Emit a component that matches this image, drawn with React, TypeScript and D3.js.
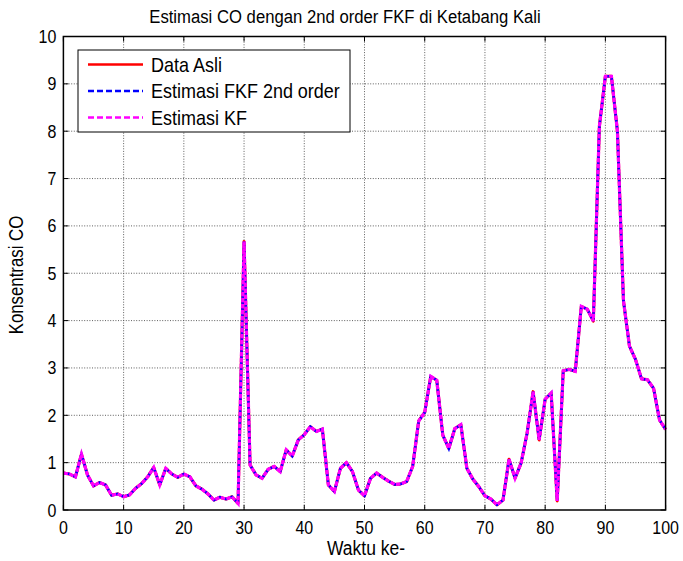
import React from "react";
import * as d3 from "d3";

// Measured CO concentration per time step (0..100)
const dataAsli: number[] = [
  0.78, 0.76, 0.7, 1.18, 0.74, 0.51, 0.58, 0.53, 0.31, 0.34,
  0.28, 0.32, 0.46, 0.56, 0.7, 0.9, 0.53, 0.88, 0.76, 0.69,
  0.76, 0.7, 0.51, 0.44, 0.34, 0.21, 0.27, 0.23, 0.28, 0.14,
  5.67, 0.95, 0.74, 0.67, 0.86, 0.92, 0.81, 1.27, 1.14, 1.48,
  1.59, 1.76, 1.66, 1.71, 0.53, 0.39, 0.88, 1.0, 0.81, 0.42,
  0.3, 0.67, 0.78, 0.69, 0.61, 0.54, 0.55, 0.6, 0.92, 1.88,
  2.06, 2.82, 2.74, 1.58, 1.3, 1.72, 1.8, 0.88, 0.65, 0.49,
  0.3, 0.23, 0.11, 0.21, 1.07, 0.67, 0.99, 1.62, 2.5, 1.48,
  2.34, 2.47, 0.19, 2.94, 2.97, 2.93, 4.3, 4.24, 3.99, 8.1,
  9.16, 9.16, 8.0, 4.42, 3.46, 3.18, 2.77, 2.75, 2.57, 1.9,
  1.7,
];

// Second-order FKF estimate and KF estimate (visually coincide with the data)
const estimasiFKF: number[] = dataAsli.slice();
const estimasiKF: number[] = dataAsli.slice();

const xTicks = [0, 10, 20, 30, 40, 50, 60, 70, 80, 90, 100];
const yTicks = [0, 1, 2, 3, 4, 5, 6, 7, 8, 9, 10];

const legendLabels = ["Data Asli", "Estimasi FKF 2nd order", "Estimasi KF"];

const W = 683;
const H = 561;
const left = 63.4;
const right = 665.6;
const top = 36.5;
const bottom = 510;
const font = "'Liberation Sans', Arial, Helvetica, sans-serif";
const stretch = 1.15;

// Text drawn slightly taller than wide, like the exported figure's glyphs
function T({
  x,
  y,
  size,
  anchor = "start",
  rotate = 0,
  children,
}: {
  x: number;
  y: number;
  size: number;
  anchor?: "start" | "middle" | "end";
  rotate?: number;
  children: React.ReactNode;
}) {
  const tr = rotate
    ? `translate(${x},${y}) rotate(${rotate}) scale(1,${stretch})`
    : `translate(${x},${y}) scale(1,${stretch})`;
  return (
    <text transform={tr} textAnchor={anchor} fontSize={size} fill="#000">
      {children}
    </text>
  );
}

export default function App() {
  const x = d3.scaleLinear().domain([0, 100]).range([left, right]);
  const y = d3.scaleLinear().domain([0, 10]).range([bottom, top]);

  const line = d3
    .line<number>()
    .x((_, i) => x(i))
    .y((d) => y(d));

  const tickLen = 5;

  return (
    <svg
      width={W}
      height={H}
      style={{ position: "absolute", left: 0, top: 0, background: "#fff" }}
      fontFamily={font}
    >
      <rect x={0} y={0} width={W} height={H} fill="#fff" />
      {/* grid */}
      <g stroke="#222" strokeWidth={0.9} strokeDasharray="1 1.6" opacity={0.8}>
        {xTicks.slice(1, -1).map((t) => (
          <line key={"gx" + t} x1={x(t)} x2={x(t)} y1={top} y2={bottom} />
        ))}
        {yTicks.slice(1, -1).map((t) => (
          <line key={"gy" + t} x1={left} x2={right} y1={y(t)} y2={y(t)} />
        ))}
      </g>

      {/* ticks (inside, all four sides) */}
      <g stroke="#000" strokeWidth={1}>
        {xTicks.map((t) => (
          <g key={"tx" + t}>
            <line x1={x(t)} x2={x(t)} y1={bottom} y2={bottom - tickLen} />
            <line x1={x(t)} x2={x(t)} y1={top} y2={top + tickLen} />
          </g>
        ))}
        {yTicks.map((t) => (
          <g key={"ty" + t}>
            <line x1={left} x2={left + tickLen} y1={y(t)} y2={y(t)} />
            <line x1={right} x2={right - tickLen} y1={y(t)} y2={y(t)} />
          </g>
        ))}
      </g>

      {/* series */}
      <path d={line(dataAsli) || ""} fill="none" stroke="#ff0000" strokeWidth={3} strokeLinejoin="round" />
      <path
        d={line(estimasiFKF) || ""}
        fill="none"
        stroke="#0000ff"
        strokeWidth={2.6}
        strokeDasharray="4.5 1.5"
        strokeDashoffset={3}
      />
      <path
        d={line(estimasiKF) || ""}
        fill="none"
        stroke="#ff00ff"
        strokeWidth={3.2}
        strokeDasharray="4.5 1.5"
      />

      {/* axes box */}
      <rect x={left} y={top} width={right - left} height={bottom - top} fill="none" stroke="#000" strokeWidth={1.5} />

      {/* tick labels */}
      {xTicks.map((t) => (
        <T key={"lx" + t} x={x(t)} y={533.5} size={16} anchor="middle">
          {t}
        </T>
      ))}
      {yTicks.map((t) => (
        <T key={"ly" + t} x={left - 7} y={y(t) + 6.5} size={16} anchor="end">
          {t}
        </T>
      ))}

      {/* title and axis labels */}
      <T x={345} y={22.5} size={16.7} anchor="middle">
        Estimasi CO dengan 2nd order FKF di Ketabang Kali
      </T>
      <T x={366} y={555} size={17.5} anchor="middle">
        Waktu ke-
      </T>
      <T x={23} y={275} size={16.8} anchor="middle" rotate={-90}>
        Konsentrasi CO
      </T>

      {/* legend */}
      <g>
        <rect x={78} y={50} width={272} height={82} fill="#fff" stroke="#000" strokeWidth={1} />
        {legendLabels.map((lab, i) => {
          const ly = 64.5 + i * 26.5;
          return (
            <g key={lab}>
              {i === 0 && <line x1={88} x2={143} y1={ly} y2={ly} stroke="#ff0000" strokeWidth={2.5} />}
              {i === 1 && (
                <line x1={88} x2={143} y1={ly} y2={ly} stroke="#0000ff" strokeWidth={2.5} strokeDasharray="6 3" />
              )}
              {i === 2 && (
                <line x1={88} x2={143} y1={ly} y2={ly} stroke="#ff00ff" strokeWidth={2.5} strokeDasharray="6 3" />
              )}
              <T x={151} y={ly + 7} size={18}>
                {lab}
              </T>
            </g>
          );
        })}
      </g>
    </svg>
  );
}
